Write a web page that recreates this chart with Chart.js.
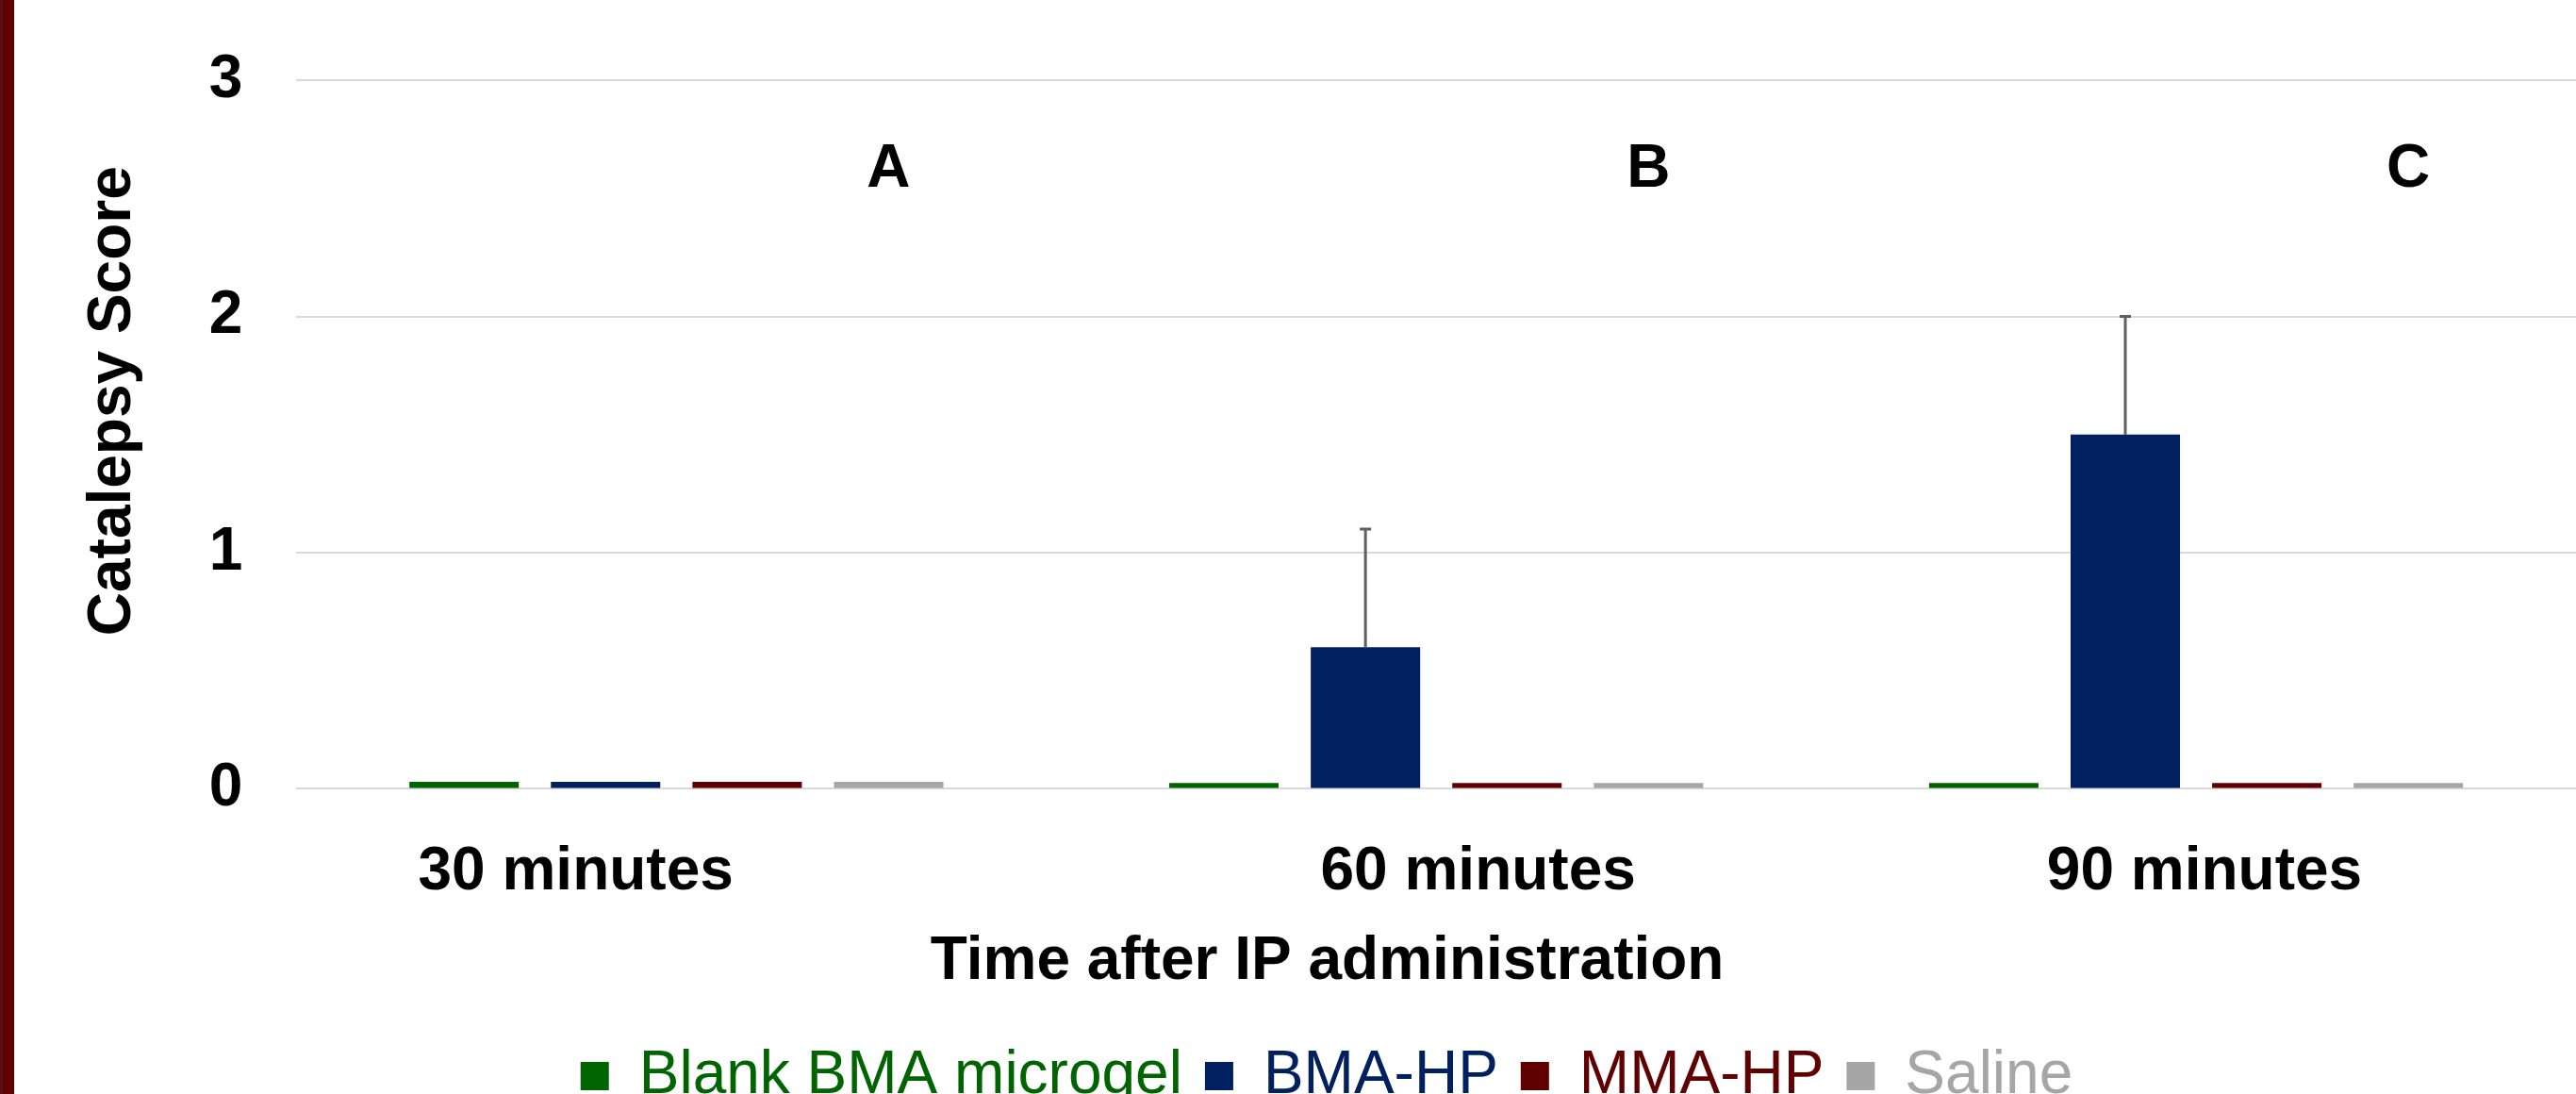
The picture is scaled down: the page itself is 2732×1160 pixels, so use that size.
<!DOCTYPE html>
<html>
<head>
<meta charset="utf-8">
<script src="https://cdn.jsdelivr.net/npm/chart.js@4.4.1/dist/chart.umd.min.js"></script>
<style>
  html, body { margin: 0; padding: 0; background: #fff; overflow: hidden; }
  #wrap { position: relative; width: 2732px; height: 1183px; }
  #edge {
    position: absolute; left: 0; top: 0; width: 15px; height: 1160px; z-index: 2;
    background: linear-gradient(to right, #561212 0, #561212 3px, #600000 3px, #600000 15px);
  }
</style>
</head>
<body>
<div id="wrap">
  <div id="edge"></div>
  <canvas id="catalepsy" width="2732" height="1183"></canvas>
</div>
<script>
const categories = ["30 minutes", "60 minutes", "90 minutes"];
const blankBma = [0.03, 0.025, 0.025];
const bmaHp = [0.03, 0.6, 1.5];
const mmaHp = [0.03, 0.025, 0.025];
const saline = [0.03, 0.025, 0.025];
const bmaHpError = [0, 0.5, 0.5];
const groupLetters = ["A", "B", "C"];
const letterLevel = 2.62;

const FONT = "'Liberation Sans', Arial, sans-serif";

// nudges the category text sideways the way the original is laid out
const tickPads = [[0, 12], [5, 0], [1, 0]];
function pad(text, before, after) {
  return " ".repeat(before) + text + " ".repeat(after);
}

const errorBars = {
  id: "errorBars",
  afterDatasetsDraw(chart) {
    const ctx = chart.ctx;
    const yScale = chart.scales.y;
    const meta = chart.getDatasetMeta(1);
    ctx.save();
    ctx.strokeStyle = "#5f5f5f";
    ctx.lineWidth = 3;
    meta.data.forEach((bar, i) => {
      const err = bmaHpError[i];
      if (!err) return;
      const top = yScale.getPixelForValue(bmaHp[i] + err);
      ctx.beginPath();
      ctx.moveTo(bar.x, bar.y);
      ctx.lineTo(bar.x, top);
      ctx.moveTo(bar.x - 6, top);
      ctx.lineTo(bar.x + 6, top);
      ctx.stroke();
    });
    ctx.restore();
  },
};

const letters = {
  id: "letters",
  afterDraw(chart) {
    const ctx = chart.ctx;
    const yScale = chart.scales.y;
    const meta = chart.getDatasetMeta(3);
    ctx.save();
    ctx.font = "bold 64px " + FONT;
    ctx.fillStyle = "#000";
    ctx.textAlign = "center";
    ctx.textBaseline = "middle";
    meta.data.forEach((bar, i) => {
      ctx.fillText(groupLetters[i], bar.x, yScale.getPixelForValue(letterLevel));
    });
    ctx.restore();
  },
};

new Chart(document.getElementById("catalepsy"), {
  type: "bar",
  data: {
    labels: categories,
    datasets: [
      { label: "Blank BMA microgel", data: blankBma, backgroundColor: "#006400" },
      { label: "BMA-HP", data: bmaHp, backgroundColor: "#002060" },
      { label: "MMA-HP", data: mmaHp, backgroundColor: "#600000" },
      { label: "Saline", data: saline, backgroundColor: "#a6a6a6" },
    ],
  },
  options: {
    responsive: false,
    animation: false,
    devicePixelRatio: 1,
    datasets: { bar: { categoryPercentage: 0.745, barPercentage: 0.773 } },
    layout: { padding: { left: 82, top: 60, right: 0, bottom: 0 } },
    scales: {
      x: {
        grid: { display: false, drawTicks: false },
        border: { display: false },
        ticks: {
          padding: 51,
          color: "#000",
          font: { family: FONT, size: 64, weight: "bold" },
          callback: (value, index) => pad(categories[index], tickPads[index][0], tickPads[index][1]),
        },
        title: {
          display: true,
          text: "Time after IP administration" + " ".repeat(13),
          color: "#000",
          font: { family: FONT, size: 64, weight: "bold" },
          padding: { top: -33, bottom: 26 },
        },
      },
      y: {
        min: 0,
        max: 3,
        grid: { color: "#d9d9d9", lineWidth: 2, drawTicks: false },
        border: { display: false },
        ticks: {
          stepSize: 1,
          padding: 57,
          color: "#000",
          font: { family: FONT, size: 64, weight: "bold", lineHeight: 0.88 },
        },
        title: {
          display: true,
          text: "    Catalepsy Score",
          color: "#000",
          font: { family: FONT, size: 64, weight: "bold" },
          padding: { top: 0, bottom: 6 },
        },
      },
    },
    plugins: {
      tooltip: { enabled: false },
      legend: {
        position: "bottom",
        labels: {
          boxWidth: 30,
          boxHeight: 30,
          padding: 24,
          font: { family: FONT, size: 64 },
          generateLabels(chart) {
            const items = Chart.defaults.plugins.legend.labels.generateLabels(chart);
            items.forEach((item) => {
              item.fontColor = item.fillStyle;
              item.strokeStyle = item.fillStyle;
              item.lineWidth = 0;
            });
            return items;
          },
        },
      },
    },
  },
  plugins: [errorBars, letters],
});
</script>
</body>
</html>
